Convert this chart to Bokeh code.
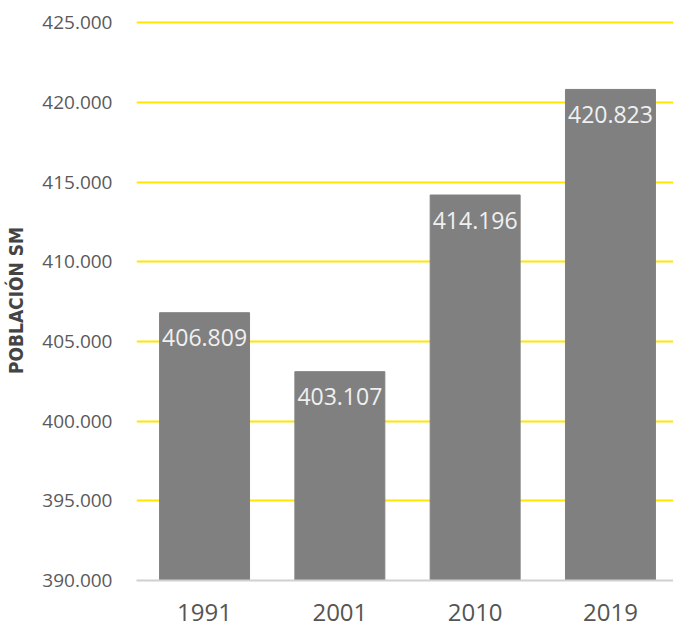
from bokeh.plotting import figure
from bokeh.models import Range1d, FixedTicker, ColumnDataSource
from bokeh.embed import file_html
from bokeh.resources import INLINE
from bokeh.core.properties import value

years = ["1991", "2001", "2010", "2019"]
poblacion = [406809, 403107, 414196, 420823]
labels = ["406.809", "403.107", "414.196", "420.823"]
y_ticks = [390000, 395000, 400000, 405000, 410000, 415000, 420000, 425000]
y_tick_labels = ["390.000", "395.000", "400.000", "405.000", "410.000", "415.000", "420.000", "425.000"]

xs = list(range(len(years)))
src = ColumnDataSource(dict(x=xs, top=poblacion, lab=labels))

p = figure(width=673, height=626, output_backend="svg", toolbar_location=None,
           x_range=Range1d(-0.503, 3.466), y_range=Range1d(390000, 425150),
           min_border_left=136, min_border_right=0, min_border_top=20, min_border_bottom=46)
p.outline_line_color = None
p.background_fill_color = "white"

p.vbar(x="x", top="top", bottom=390000, width=0.665, source=src, color="#808080")
p.text(x="x", y="top", text="lab", source=src, text_align="center", text_baseline="middle",
       y_offset=25, text_color="#f0f0f0", text_font=value("Open Sans"), text_font_size="23px")

p.xgrid.visible = False
p.ygrid.grid_line_color = "#ffe600"
p.ygrid.grid_line_width = 2
p.ygrid.ticker = FixedTicker(ticks=y_ticks[1:])

p.xaxis.ticker = FixedTicker(ticks=xs)
p.xaxis.major_label_overrides = {i: y for i, y in enumerate(years)}
p.xaxis.major_tick_line_color = None
p.xaxis.minor_tick_line_color = None
p.xaxis.axis_line_color = "#d0d0d0"
p.xaxis.axis_line_width = 2
p.xaxis.major_label_text_font = "Open Sans"
p.xaxis.major_label_text_font_size = "24px"
p.xaxis.major_label_text_color = "#555555"
p.xaxis.major_label_standoff = 17

p.yaxis.ticker = FixedTicker(ticks=y_ticks)
p.yaxis.major_label_overrides = {t: l for t, l in zip(y_ticks, y_tick_labels)}
p.yaxis.axis_line_color = None
p.yaxis.major_tick_line_color = None
p.yaxis.minor_tick_line_color = None
p.yaxis.major_label_text_font = "Open Sans"
p.yaxis.major_label_text_font_size = "19px"
p.yaxis.major_label_text_color = "#5a5a5a"
p.yaxis.major_label_standoff = 18
p.yaxis.axis_label = "POBLACIÓN SM"
p.yaxis.axis_label_text_font = "DejaVu Sans Condensed"
p.yaxis.axis_label_text_font_style = "bold"
p.yaxis.axis_label_text_font_size = "19px"
p.yaxis.axis_label_text_color = "#444444"
p.yaxis.axis_label_standoff = 12

open("out.html", "w").write(file_html(p, INLINE))
